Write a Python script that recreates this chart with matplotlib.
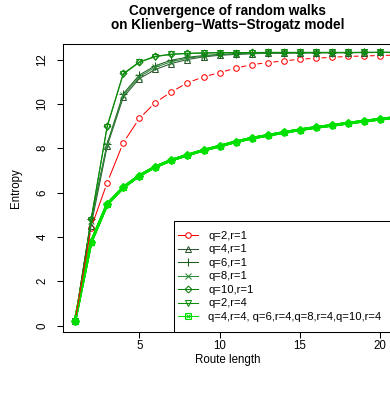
import matplotlib
matplotlib.use("Agg")
import matplotlib.pyplot as plt
from matplotlib.lines import Line2D
from matplotlib.patches import Rectangle

plt.rcParams['font.family'] = ['Liberation Sans', 'DejaVu Sans']

# route lengths
steps = list(range(1, 22))

# entropy per series
q2_r1 = [0.21, 4.40, 6.44, 8.24, 9.34, 10.06, 10.54, 10.95, 11.22, 11.41, 11.61,
         11.77, 11.86, 11.94, 12.01, 12.06, 12.10, 12.14, 12.16, 12.18, 12.20]
q4_r1 = [0.21, 4.50, 8.09, 10.29, 11.14, 11.55, 11.82, 12.00, 12.12, 12.19, 12.23,
         12.26, 12.28, 12.29, 12.30, 12.30, 12.31, 12.31, 12.31, 12.32, 12.32]
q6_r1 = [0.21, 4.80, 8.20, 10.45, 11.30, 11.72, 11.97, 12.10, 12.18, 12.23, 12.26,
         12.28, 12.29, 12.30, 12.30, 12.31, 12.31, 12.31, 12.32, 12.32, 12.32]
q8_r1 = [0.21, 4.70, 8.15, 10.38, 11.22, 11.65, 11.90, 12.06, 12.15, 12.21, 12.25,
         12.27, 12.29, 12.30, 12.30, 12.31, 12.31, 12.31, 12.32, 12.32, 12.32]
q10_r1 = [0.21, 4.80, 9.00, 11.37, 11.89, 12.15, 12.24, 12.28, 12.30, 12.31, 12.31,
          12.32, 12.32, 12.32, 12.32, 12.32, 12.32, 12.32, 12.32, 12.32, 12.32]
q2_r4 = [0.21, 4.75, 8.95, 11.33, 11.87, 12.13, 12.23, 12.27, 12.29, 12.30, 12.31,
         12.31, 12.32, 12.32, 12.32, 12.32, 12.32, 12.32, 12.32, 12.32, 12.32]
# q=4,6,8,10 with r=4 all coincide
r4_rest = [0.21, 3.76, 5.47, 6.23, 6.76, 7.16, 7.46, 7.69, 7.91, 8.09, 8.29,
           8.45, 8.58, 8.71, 8.83, 8.94, 9.03, 9.13, 9.22, 9.31, 9.39]

labels = ['q=2,r=1', 'q=4,r=1', 'q=6,r=1', 'q=8,r=1', 'q=10,r=1', 'q=2,r=4',
          'q=4,r=4, q=6,r=4,q=8,r=4,q=10,r=4']

RED = '#ff0000'
C_Q4 = '#2f5530'
C_Q6 = '#1c5e1c'
C_Q8 = '#2e8b3a'
C_Q10 = '#0a7d0a'
C_R4 = '#0b8f0b'
C_BRIGHT = '#00e000'

W, H = 390, 396
fig = plt.figure(figsize=(W / 100, H / 100), dpi=100)
L, R, T, B = 62.8, 392.5, 44, 331.5
ax = fig.add_axes([L / W, 1 - B / H, (R - L) / W, (B - T) / H])

lw = 0.75
ms = 4.0

# red series drawn R "type b" style: gaps around the points
for i in range(len(steps) - 1):
    ax.annotate('', xy=(steps[i + 1], q2_r1[i + 1]), xytext=(steps[i], q2_r1[i]),
                arrowprops=dict(arrowstyle='-', color=RED, lw=lw,
                                shrinkA=4.3, shrinkB=4.3),
                annotation_clip=False)
ax.plot(steps, q2_r1, ls='none', marker='o', ms=ms, mfc='none', mec=RED, mew=lw)

ax.plot(steps, q4_r1, color=C_Q4, lw=lw, marker='^', ms=ms + 0.4, mfc='none', mew=lw)
ax.plot(steps, q6_r1, color=C_Q6, lw=lw, marker='+', ms=ms + 1.2, mew=lw)
ax.plot(steps, q8_r1, color=C_Q8, lw=lw, marker='x', ms=ms - 0.3, mew=lw)
ax.plot(steps, q10_r1, color=C_Q10, lw=lw, marker='D', ms=ms - 0.5, mfc='none', mew=lw)
ax.plot(steps, q2_r4, color=C_R4, lw=lw, marker='v', ms=ms, mfc='none', mew=lw)

# four overlapping series, different symbols stack into one blob
for mk, sz in [('s', ms - 0.4), ('x', ms - 0.4), ('D', ms - 0.4), ('+', ms + 1.2),
               ('o', ms)]:
    ax.plot(steps, r4_rest, color=C_BRIGHT, lw=1.9, marker=mk, ms=sz,
            mfc='none', mew=0.9)

ax.set_xlim(0.24, 20.76)
ax.set_ylim(-0.27, 12.7)
ax.set_xticks([5, 10, 15, 20])
ax.set_yticks([0, 2, 4, 6, 8, 10, 12])

for s in ax.spines.values():
    s.set_linewidth(lw)
    s.set_color('black')

ax.tick_params(direction='out', length=4.3, width=lw, labelsize=8.3, colors='black')
ax.tick_params(axis='x', pad=1.5)
ax.tick_params(axis='y', pad=6)
for lab in ax.get_yticklabels():
    lab.set_rotation(90)
    lab.set_va('center')

ax.set_xlabel('Route length', fontsize=8.3, va='center')
ax.xaxis.set_label_coords(0.5, (B - 360) / (B - T))
ax.set_ylabel('Entropy', fontsize=8.3, va='center')
ax.yaxis.set_label_coords((16 - L) / (R - L), 0.5)

cx = (L + R) / 2 / W
fig.text(cx, 1 - 10.5 / H, 'Convergence of random walks', ha='center', va='center',
         fontsize=9.8, fontweight='bold')
fig.text(cx, 1 - 25.5 / H, 'on Klienberg\u2212Watts\u2212Strogatz model', ha='center',
         va='center', fontsize=9.8, fontweight='bold')

# legend box like R's: fixed frame reaching the plot's right and bottom edges
def ax_x(px):
    return (px - L) / (R - L)

def ax_y(py):
    return (B - py) / (B - T)

ax.add_patch(Rectangle((ax_x(174), 0), 1 - ax_x(174), ax_y(221), transform=ax.transAxes,
                       facecolor='white', edgecolor='black', lw=lw, zorder=4.9,
                       clip_on=False))

handles = [
    Line2D([], [], color=RED, lw=lw, marker='o', ms=ms, mfc='white', mew=lw),
    Line2D([], [], color=C_Q4, lw=lw, marker='^', ms=ms + 0.4, mfc='none', mew=lw),
    Line2D([], [], color=C_Q6, lw=lw, marker='+', ms=ms + 1.2, mew=lw),
    Line2D([], [], color=C_Q8, lw=lw, marker='x', ms=ms - 0.3, mew=lw),
    Line2D([], [], color=C_Q10, lw=lw, marker='D', ms=ms - 0.5, mfc='none', mew=lw),
    Line2D([], [], color=C_R4, lw=lw, marker='v', ms=ms, mfc='none', mew=lw),
    (Line2D([], [], color=C_BRIGHT, lw=lw, marker='s', ms=ms, mfc='none', mew=lw),
     Line2D([], [], color=C_BRIGHT, lw=0, marker='x', ms=ms - 1, mew=lw)),
]
leg = ax.legend(handles, labels, loc='upper left', bbox_to_anchor=(ax_x(177.5), ax_y(231)),
                fontsize=8.1, frameon=False, borderaxespad=0, borderpad=0,
                labelspacing=0.31, handlelength=1.8, handletextpad=0.95)

fig.savefig('out.png', dpi=100)
